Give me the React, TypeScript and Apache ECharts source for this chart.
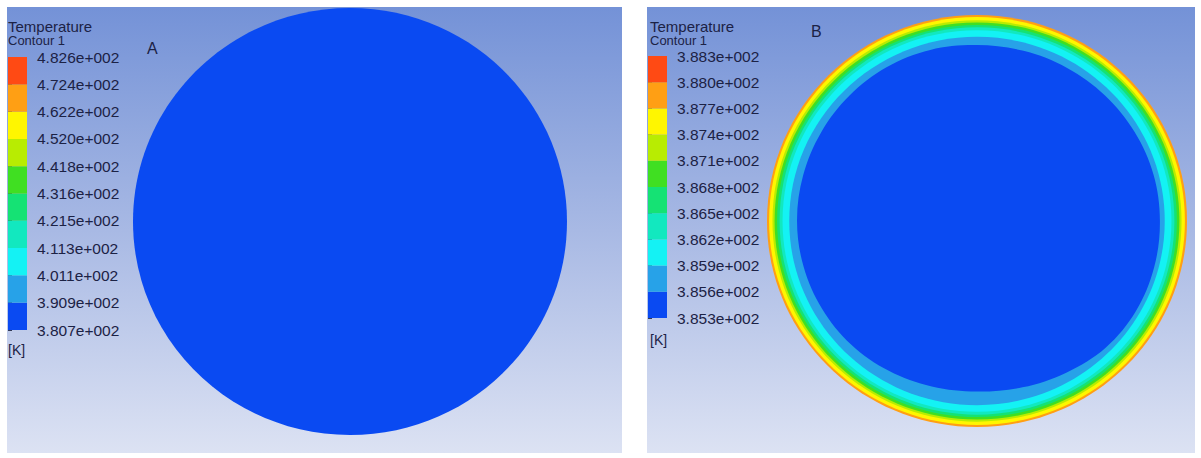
import React, { useEffect, useRef } from "react";
import * as echarts from "echarts";

// Contour levels [K] shown on each colour legend (bottom to top)
const levelsA = [380.7, 390.9, 401.1, 411.3, 421.5, 431.6, 441.8, 452.0, 462.2, 472.4, 482.6];
const levelsB = [385.3, 385.6, 385.9, 386.2, 386.5, 386.8, 387.1, 387.4, 387.7, 388.0, 388.3];

// Rainbow colour map, one colour per contour band (lowest first)
const bandColors = [
  "#0a4af2", "#27a2e8", "#14f2f4", "#12e8bf", "#15e274",
  "#40df22", "#b8ec02", "#fff600", "#ff9f14", "#ff4a14",
];

// Section A: the whole cross-section lies in the lowest band
const ringRadiiA = [1.0];
const ringBandsA = [0];

// Section B: concentric bands from the hot wall inwards (radius as fraction of wall radius)
const ringRadiiB = [1.0, 0.99, 0.974, 0.964, 0.952, 0.94, 0.926, 0.894];
const ringBandsB = [8, 7, 6, 5, 4, 3, 2, 1];

// Section B: boundary of the cold core (angle in degrees, radius fraction)
const coreAnglesB = [0, 15, 30, 45, 60, 75, 90, 105, 120, 135, 150, 165, 180, 195, 210, 225, 240, 255, 270, 285, 300, 315, 330, 345];
const coreRadiiB = [0.871, 0.87, 0.866, 0.862, 0.858, 0.855, 0.854, 0.86, 0.862, 0.86, 0.858, 0.857, 0.857, 0.855, 0.852, 0.848, 0.84, 0.832, 0.828, 0.836, 0.85, 0.868, 0.874, 0.873];
const coreBandB = 0;

const textColor = "#1c2245";
const fontFamily = "'Liberation Sans', Arial, sans-serif";

const fmtLevel = (v: number) => (v / 100).toFixed(3) + "e+002";

function bandData(levels: number[]) {
  return levels.slice(0, -1).map((lo, i) => [lo, levels[i + 1], i]);
}

function legendBarRender(params: any, api: any) {
  const lo = api.value(0);
  const hi = api.value(1);
  const p0 = api.coord([0, lo]);
  const p1 = api.coord([1, hi]);
  return {
    type: "rect",
    shape: { x: p0[0], y: p1[1], width: p1[0] - p0[0], height: p0[1] - p1[1] },
    style: { fill: bandColors[api.value(2)] },
  };
}

function ringRender(params: any, api: any) {
  const r = api.value(0);
  const band = api.value(1);
  const c = api.coord([0, 0]);
  const s = api.size([r, r]);
  return {
    type: "ellipse",
    shape: { cx: c[0], cy: c[1], rx: s[0], ry: s[1] },
    style: { fill: bandColors[band] },
  };
}

function coreRender(params: any, api: any) {
  const pts = coreAnglesB.map((a, i) => {
    const t = (a * Math.PI) / 180;
    return api.coord([coreRadiiB[i] * Math.cos(t), coreRadiiB[i] * Math.sin(t)]);
  });
  return {
    type: "polygon",
    shape: { points: pts, smooth: 0.35 },
    style: { fill: bandColors[coreBandB] },
  };
}

function legendAxis(levels: number[], gridIndex: number) {
  return {
    type: "value",
    gridIndex,
    min: levels[0],
    max: levels[levels.length - 1],
    position: "right",
    axisLine: { show: false },
    splitLine: { show: false },
    axisTick: {
      show: true,
      length: 4,
      customValues: levels,
      lineStyle: { color: "#333a55", width: 1 },
    },
    axisLabel: {
      customValues: levels,
      formatter: fmtLevel,
      margin: 10,
      color: textColor,
      fontFamily,
      fontSize: 15.5,
      padding: [5, 0, 0, 0],
    },
  };
}

const hiddenAxis = (gridIndex: number, min: number, max: number) => ({
  type: "value",
  gridIndex,
  min,
  max,
  show: false,
});

function panelBg(x: number, y: number, w: number, h: number) {
  return {
    type: "rect",
    z: -10,
    silent: true,
    shape: { x, y, width: w, height: h },
    style: {
      fill: new echarts.graphic.LinearGradient(0, 0, 0, 1, [
        { offset: 0, color: "#7492d7" },
        { offset: 0.5, color: "#a8b9e4" },
        { offset: 1, color: "#dce2f3" },
      ]),
    },
  };
}

function label(text: string, x: number, y: number, size: number) {
  return {
    type: "text",
    z: 100,
    x,
    y,
    style: {
      text,
      fill: textColor,
      font: `${size}px ${fontFamily}`,
      verticalAlign: "middle",
      align: "left",
    },
  };
}

export default function App() {
  const ref = useRef<HTMLDivElement>(null);

  useEffect(() => {
    if (!ref.current) return;
    const chart = echarts.init(ref.current, undefined, { renderer: "svg" });
    chart.setOption({
      animation: false,
      backgroundColor: "#ffffff",
      grid: [
        { left: 133, top: 8, width: 434, height: 427 },
        { left: 8, top: 57, width: 19, height: 273 },
        { left: 767, top: 15, width: 420, height: 412 },
        { left: 648, top: 56, width: 19, height: 262 },
      ],
      xAxis: [
        hiddenAxis(0, -1, 1),
        hiddenAxis(1, 0, 1),
        hiddenAxis(2, -1, 1),
        hiddenAxis(3, 0, 1),
      ],
      yAxis: [
        hiddenAxis(0, -1, 1),
        legendAxis(levelsA, 1),
        hiddenAxis(2, -1, 1),
        legendAxis(levelsB, 3),
      ],
      graphic: [
        panelBg(7, 7, 615, 446),
        panelBg(647, 7, 548, 446),
        label("Temperature", 8, 26, 15),
        label("Contour 1", 8, 40, 13),
        label("A", 147, 48.5, 16),
        label("[K]", 8, 350, 14),
        label("Temperature", 650, 26, 15),
        label("Contour 1", 650, 40, 13),
        label("B", 811, 31, 16),
        label("[K]", 650, 340, 14),
      ],
      series: [
        {
          type: "custom",
          xAxisIndex: 0,
          yAxisIndex: 0,
          renderItem: ringRender,
          data: ringRadiiA.map((r, i) => [r, ringBandsA[i]]),
        },
        {
          type: "custom",
          xAxisIndex: 1,
          yAxisIndex: 1,
          renderItem: legendBarRender,
          data: bandData(levelsA),
        },
        {
          type: "custom",
          xAxisIndex: 2,
          yAxisIndex: 2,
          renderItem: ringRender,
          data: ringRadiiB.map((r, i) => [r, ringBandsB[i]]),
        },
        {
          type: "custom",
          xAxisIndex: 2,
          yAxisIndex: 2,
          renderItem: coreRender,
          data: [[0, 0]],
        },
        {
          type: "custom",
          xAxisIndex: 3,
          yAxisIndex: 3,
          renderItem: legendBarRender,
          data: bandData(levelsB),
        },
      ],
    });
    return () => chart.dispose();
  }, []);

  return (
    <div
      ref={ref}
      style={{ position: "absolute", left: 0, top: 0, width: 1201, height: 458 }}
    />
  );
}
